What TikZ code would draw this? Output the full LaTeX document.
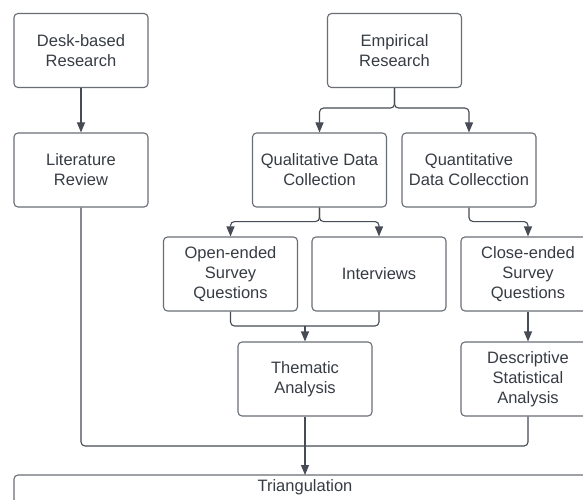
\documentclass[tikz,border=0pt]{standalone}
\usepackage{fontspec}
\setmainfont{Liberation Sans}
\usetikzlibrary{arrows.meta,calc}
\definecolor{txt}{RGB}{55,60,68}
\definecolor{bord}{RGB}{105,110,118}
\definecolor{conn}{RGB}{70,75,85}
\begin{document}
\begin{tikzpicture}[x=1pt,y=-1pt,
  box/.style={draw=bord, line width=1.1pt, rounded corners=4pt, minimum width=134pt, minimum height=74pt, align=center, text=txt, inner sep=2pt, font=\fontsize{16.5}{20}\selectfont},
  conline/.style={draw=conn, line width=1.1pt, rounded corners=4pt},
  arr/.style={conline, -{Triangle[width=8pt,length=10pt]}}]
\useasboundingbox (0,0) rectangle (583,500);
\clip (0,0) rectangle (583,500);
\fill[white] (0,0) rectangle (583,500);
\node[box] (desk) at (81,50.5) {Desk-based\\Research};
\node[box] (lit) at (81,170) {Literature\\Review};
\node[box] (emp) at (394.5,50.5) {Empirical\\Research};
\node[box] (qual) at (319.5,170) {Qualitative Data\\Collection};
\node[box] (quant) at (469,170) {Quantitative\\Data Collecction};
\node[box] (open) at (230.5,274) {Open-ended\\Survey\\Questions};
\node[box] (int) at (379,274) {Interviews};
\node[box] (them) at (305,379) {Thematic\\Analysis};
\node[box] (close) at (528,274) {Close-ended\\Survey\\Questions};
\node[box] (desc) at (528,379) {Descriptive\\Statistical\\Analysis};
\draw[draw=bord, line width=1.1pt, rounded corners=4pt] (14,475) rectangle (596,540);
\node[text=txt, inner sep=4pt, anchor=north, font=\fontsize{16.5}{20}\selectfont] (tri) at (305,475) {Triangulation};
\coordinate (m) at (305,446);
\coordinate (jm) at (305,326);
% connectors
\draw[arr] (desk) -- (lit);
\draw[arr] (emp.south) -- ++(0,20) -| (qual.north);
\draw[arr] (emp.south) -- ++(0,20) -| (quant.north);
\draw[arr] (qual.south) -- ++(0,14) -| (open.north);
\draw[arr] (qual.south) -- ++(0,14) -| (int.north);
\draw[arr] (quant.south) -- ++(0,14) -| (close.north);
\draw[conline] (open.south) |- (jm);
\draw[conline] (int.south) |- (jm);
\draw[arr] (jm) -- (them.north);
\draw[arr] (close) -- (desc);
\draw[conline] (lit.south) |- (m);
\draw[conline] (desc.south) |- (m);
\draw[arr] (them.south) -- (tri.north);
\end{tikzpicture}
\end{document}
